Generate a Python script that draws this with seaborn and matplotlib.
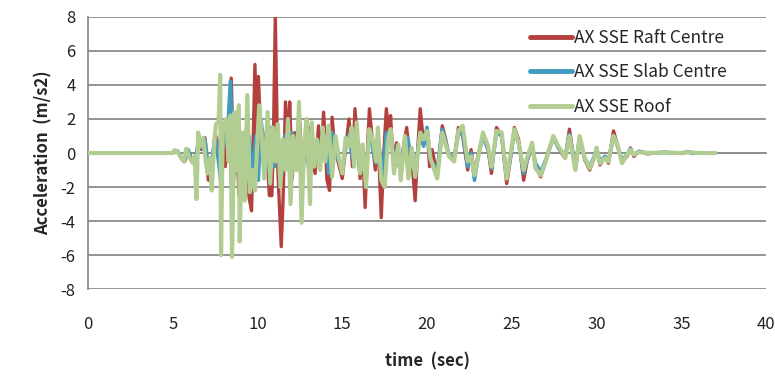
import matplotlib
matplotlib.use("Agg")
import matplotlib.pyplot as plt
import seaborn as sns
import pandas as pd

# --- data (time in s, acceleration in m/s2) ---
raft_t = [0, 5.0, 5.1, 5.3, 5.5, 5.7, 5.9, 6.1, 6.3, 6.5, 6.7, 6.9, 7.1, 7.3, 7.5, 7.7, 7.9, 8.1, 8.3, 8.45,
          8.6, 8.75, 8.9, 9.05, 9.2, 9.35, 9.5, 9.65, 9.85, 9.95, 10.05, 10.2, 10.35, 10.5, 10.7, 10.85, 10.95,
          11.05, 11.2, 11.4, 11.5, 11.65, 11.8, 11.9, 12.05, 12.2, 12.35, 12.5, 12.65, 12.8, 12.95, 13.1, 13.25,
          13.4, 13.6, 13.75, 13.9, 14.1, 14.25, 14.4, 14.55, 14.75, 15.0, 15.2, 15.4, 15.6, 15.75, 15.9, 16.05,
          16.2, 16.35, 16.5, 16.6, 16.8, 16.95, 17.1, 17.3, 17.45, 17.6, 17.75, 17.85, 18.0, 18.2, 18.4, 18.6,
          18.8, 19.0, 19.15, 19.3, 19.45, 19.6, 19.8, 20.0, 20.15, 20.3, 20.6, 20.9, 21.1, 21.3, 21.6, 21.85,
          22.1, 22.4, 22.6, 22.8, 23.0, 23.3, 23.6, 23.8, 24.1, 24.4, 24.7, 24.9, 25.15, 25.4, 25.7, 25.9, 26.2,
          26.4, 26.7, 27.0, 27.2, 27.45, 27.75, 28.0, 28.15, 28.4, 28.75, 29.0, 29.3, 29.6, 29.9, 30.0, 30.2,
          30.5, 30.7, 31.0, 31.2, 31.5, 31.8, 32.0, 32.2, 32.5, 33.0, 34.0, 35.0, 35.4, 36.0, 37.0]
raft_a = [0, 0, 0.15, 0.1, -0.3, -0.5, 0.1, -0.4, -0.7, 0.6, 0.2, 0.9, -1.6, -0.8, 1.2, 0.2, 1.5, -0.8, 2.0, 4.4,
          -1.0, 1.8, -2.5, 0.8, -1.8, 1.5, -2.6, -3.4, 5.2, 0.5, 4.5, 1.0, -0.5, 1.2, -2.5, -2.5, 1.5,
          8.0, -1.0, -5.5, -3.0, 3.0, 0.5, 3.0, -1.5, 1.2, -0.8, 1.8, -1.8, 0.8, -0.5, 1.5, -0.5,
          -1.2, 1.6, -0.3, 2.4, -1.6, -2.2, 2.1, 0.3, -0.5, -1.5, 0.3, 2.0, -0.8, 2.6, 0.5, -1.5,
          0.2, -3.2, 0.5, 2.6, 0.5, -1.0, 1.2, -3.8, 0.0, 2.6, 1.0, 2.2, -0.5, 0.6, -1.0, 0.3,
          1.5, -0.4, -1.0, -2.8, 0.2, 2.6, 0.5, 1.5, -0.8, 0.2, -1.3, 1.6, 0.8, -0.2, -0.4, 1.5,
          1.0, -1.0, 0.2, -1.3, -0.2, 1.0, 0.2, -1.2, 1.5, 1.0, -1.8, -0.5, 1.5, 0.8, -1.6, -0.5, 0.4,
          -0.8, -1.4, -0.5, 0.2, 0.9, 0.3, -0.1, -0.3, 1.4, -1.0, 0.9, -0.4, -1.0, -0.2, 0.3, -0.7,
          -0.2, -0.6, 1.3, 0.6, -0.5, -0.2, 0.3, -0.2, 0.1, -0.05, 0.05, -0.03, 0.05, 0.0, 0.0]

slab_t = [0, 5.0, 5.1, 5.3, 5.5, 5.7, 5.9, 6.1, 6.3, 6.5, 6.7, 6.9, 7.1, 7.3, 7.5, 7.7, 7.85, 8.0, 8.2, 8.4,
          8.6, 8.75, 8.9, 9.1, 9.3, 9.5, 9.7, 9.9, 10.05, 10.2, 10.4, 10.6, 10.8, 11.0, 11.2, 11.4, 11.6, 11.8,
          12.0, 12.2, 12.4, 12.6, 12.8, 13.0, 13.2, 13.4, 13.6, 13.8, 14.0, 14.2, 14.4, 14.6, 14.8, 15.0, 15.2,
          15.4, 15.6, 15.8, 16.0, 16.2, 16.4, 16.6, 16.8, 17.0, 17.15, 17.35, 17.6, 17.9, 18.1, 18.4, 18.6,
          18.85, 19.1, 19.3, 19.6, 19.8, 20.0, 20.2, 20.6, 20.9, 21.1, 21.3, 21.6, 21.85, 22.1, 22.4, 22.6,
          22.8, 23.0, 23.3, 23.6, 23.8, 24.1, 24.4, 24.7, 24.9, 25.15, 25.4, 25.7, 25.9, 26.2, 26.4, 26.7,
          27.0, 27.2, 27.45, 27.75, 28.0, 28.15, 28.4, 28.75, 29.0, 29.3, 29.6, 29.9, 30.0, 30.2, 30.5, 30.7,
          31.0, 31.2, 31.5, 31.8, 32.0, 32.2, 32.5, 33.0, 34.0, 35.0, 35.4, 35.6, 36.0, 37.0]
slab_a = [0, 0, 0.15, 0.1, -0.3, -0.4, 0.2, -0.3, -0.5, 0.5, 0.3, 0.8, -0.8, -0.5, 1.0, -0.5, -1.8, 1.5, 0.5, 4.2,
          -1.5, 1.5, -1.2, 0.5, -1.5, 1.0, -1.2, 1.0, -1.6, 2.0, 0.3, -1.0, 1.5, -0.8, 0.8, -1.5, 1.0, -0.5,
          1.2, -0.7, 0.8, -1.0, 0.6, -0.8, 1.0, -0.6, 0.7, -0.3, 1.0, -1.2, 1.2, 0.0, -0.5, -0.9, 0.3,
          1.1, -0.3, 1.3, -0.8, 0.2, -1.4, 1.3, 0.2, -0.6, 0.6, -1.4, 1.2, 0.8, -0.4, -0.8, 0.1,
          0.9, -0.4, -1.0, 1.2, 0.4, 1.5, -0.4, -1.0, 1.4, 0.6, -0.1, -0.3, 1.1, 1.2, -0.8, 0.0,
          -1.6, -0.3, 1.0, 0.2, -0.9, 1.2, 1.0, -1.3, -0.4, 1.2, 0.6, -1.2, -0.4, 0.4, -0.6, -1.1,
          -0.4, 0.2, 0.9, 0.3, 0.0, -0.2, 1.1, -0.8, 0.9, -0.3, -0.8, -0.1, 0.3, -0.5, -0.2, -0.5,
          1.0, 0.5, -0.4, -0.1, 0.25, -0.1, 0.1, 0.0, 0.03, 0.0, 0.08, -0.02, 0.0, 0.0]

roof_t = [0, 5.0, 5.1, 5.3, 5.5, 5.65, 5.8, 6.0, 6.2, 6.3, 6.4, 6.5, 6.65, 6.8, 6.95, 7.05, 7.2, 7.3, 7.45, 7.55,
          7.7, 7.8, 7.85, 7.95, 8.15, 8.3, 8.4, 8.5, 8.65, 8.75, 8.9, 8.95, 9.1, 9.25, 9.4, 9.55, 9.7, 9.85,
          10.1, 10.25, 10.4, 10.6, 10.75, 10.9, 11.05, 11.2, 11.35, 11.5, 11.65, 11.8, 11.95, 12.1, 12.3, 12.45,
          12.6, 12.75, 12.9, 13.1, 13.2, 13.35, 13.5, 13.7, 13.85, 14.0, 14.2, 14.4, 14.6, 14.8, 15.0, 15.2,
          15.4, 15.55, 15.7, 15.85, 16.05, 16.2, 16.4, 16.6, 16.8, 17.0, 17.1, 17.3, 17.5, 17.7, 17.85, 18.05,
          18.3, 18.45, 18.7, 18.9, 19.1, 19.3, 19.6, 19.8, 20.0, 20.2, 20.6, 20.9, 21.1, 21.3, 21.6, 21.85,
          22.1, 22.4, 22.6, 22.8, 23.0, 23.3, 23.6, 23.8, 24.1, 24.4, 24.7, 24.9, 25.15, 25.4, 25.7, 25.9,
          26.2, 26.4, 26.7, 27.0, 27.2, 27.45, 27.75, 28.0, 28.15, 28.4, 28.75, 29.0, 29.3, 29.6, 29.9, 30.0,
          30.2, 30.5, 30.7, 31.0, 31.2, 31.5, 31.8, 32.0, 32.2, 32.5, 33.0, 34.0, 35.0, 35.4, 36.0, 37.0]
roof_a = [0, 0, 0.15, 0.05, -0.3, -0.5, 0.25, -0.3, -0.6, -0.2, -2.7, 1.2, 0.4, 0.9, -0.5, -1.2, -0.3, -2.2, 0.6, 1.7,
          1.8, 4.6, -6.0, 1.5, 2.0, -0.5, 2.2, -6.1, 2.4, -1.0, 2.8, -5.2, 1.2, -2.8, 3.4, -2.3, -1.0, -2.2,
          2.8, 1.0, -1.5, 2.4, -1.8, 1.5, -0.5, 1.7, -2.0, 0.8, -1.0, 2.0, -3.0, 1.0, -1.0, 3.0,
          -4.1, 0.5, 2.0, -3.0, 1.8, -0.8, 0.8, -1.0, 1.5, -0.5, 1.6, -1.4, 1.0, -0.3, -1.2, 0.9,
          0.4, 1.5, -0.8, 1.8, -1.2, 0.5, -2.0, 1.4, 0.8, -0.5, 1.5, -1.6, -2.0, 0.8, 1.4, -1.2,
          0.5, -1.6, 1.0, -1.5, 0.3, -1.4, 1.2, 0.8, 1.3, -0.3, -1.5, 1.2, 0.5, -0.2, -0.5, 1.3,
          1.6, -0.5, -0.2, -1.3, -0.3, 1.2, 0.4, -0.8, 1.3, 1.2, -1.5, -0.2, 1.4, 0.6, -1.0, -0.3,
          0.6, -0.9, -1.3, -0.5, 0.2, 1.0, 0.4, 0.0, -0.3, 1.0, -1.0, 1.0, -0.3, -0.9, -0.2, 0.3,
          -0.6, -0.3, -0.5, 1.0, 0.6, -0.6, -0.1, 0.2, -0.1, 0.05, 0.0, 0.03, 0.0, 0.05, 0.0, 0.0]

series_names = ["AX SSE Raft Centre", "AX SSE Slab Centre", "AX SSE Roof"]
series_colors = ["#B3403D", "#3F9CC0", "#B2CD91"]
series_widths = [2.4, 2.6, 3.0]
y_ticks = [-8, -6, -4, -2, 0, 2, 4, 6, 8]
x_ticks = [0, 5, 10, 15, 20, 25, 30, 35, 40]

df = pd.concat([
    pd.DataFrame({"time": raft_t, "acc": raft_a, "series": series_names[0]}),
    pd.DataFrame({"time": slab_t, "acc": slab_a, "series": series_names[1]}),
    pd.DataFrame({"time": roof_t, "acc": roof_a, "series": series_names[2]}),
], ignore_index=True)

sns.set_style("white")
plt.rcParams["font.family"] = ["Noto Sans CJK KR", "DejaVu Sans"]
plt.rcParams["axes.unicode_minus"] = False

fig = plt.figure(figsize=(7.75, 3.83), dpi=100)
ax = fig.add_axes([0.1135, 0.245, 0.875, 0.711])

for name, col, lw in zip(series_names, series_colors, series_widths):
    sns.lineplot(data=df[df["series"] == name], x="time", y="acc", color=col, linewidth=lw,
                 estimator=None, sort=False, ax=ax, label=name, zorder=3)

ax.set_xlim(0, 40)
ax.set_ylim(-8, 8)
ax.set_yticks(y_ticks)
ax.set_xticks(x_ticks)
ax.yaxis.grid(True, color="#8C8C8C", linewidth=1.3, zorder=0)
ax.xaxis.grid(False)

# spines: gray left axis, x axis drawn through zero
for s in ["top", "right"]:
    ax.spines[s].set_visible(False)
ax.spines["left"].set_color("#8C8C8C")
ax.spines["left"].set_linewidth(1.3)
ax.spines["bottom"].set_position(("data", 0))
ax.spines["bottom"].set_color("#8C8C8C")
ax.spines["bottom"].set_linewidth(1.3)
ax.tick_params(axis="x", direction="out", length=5, width=1.2, color="#8C8C8C", labelbottom=False)
ax.tick_params(axis="y", direction="out", length=6, width=1.2, color="#8C8C8C",
               labelsize=12, labelcolor="#222222", pad=3)

# tick labels sit below the plot, as in the original
secx = ax.secondary_xaxis(0.0)
secx.set_xticks(x_ticks)
secx.tick_params(length=0, labelsize=12, labelcolor="#222222", pad=19)
secx.spines["bottom"].set_visible(False)

ax.set_xlabel("")
ax.set_ylabel("Acceleration  (m/s2)", fontsize=12, fontweight="bold", labelpad=6)
secx.set_xlabel("time  (sec)", fontsize=12, fontweight="bold", labelpad=14)

ax.legend(loc="upper left", bbox_to_anchor=(0.684, 0.925), bbox_transform=fig.transFigure,
          frameon=False, fontsize=12.5, handlelength=2.4, handletextpad=0.15,
          labelspacing=0.95, borderpad=0, borderaxespad=0)
for line in ax.get_legend().get_lines():
    line.set_linewidth(3.5)

fig.savefig("out.png", dpi=100, facecolor="white")
